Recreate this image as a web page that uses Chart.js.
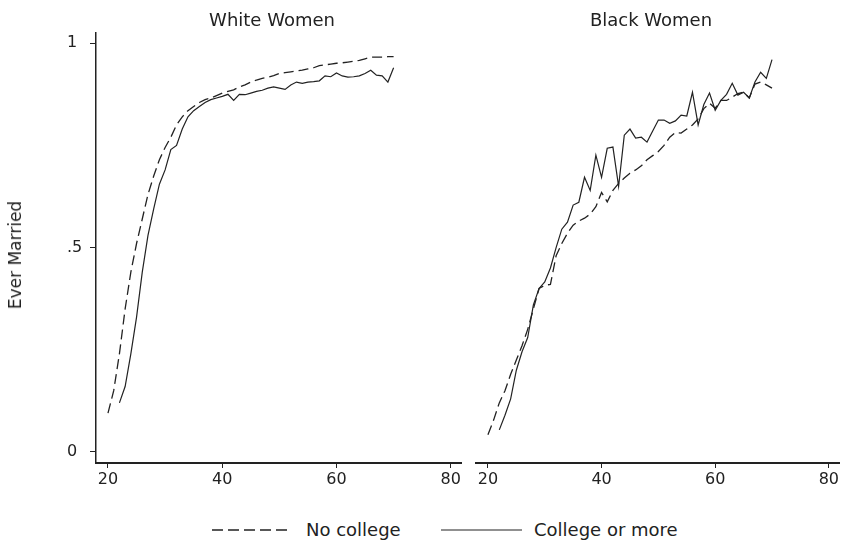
<!DOCTYPE html>
<html>
<head>
<meta charset="utf-8">
<script src="https://cdn.jsdelivr.net/npm/chart.js@4"></script>
<style>
  body { margin: 0; background: #fff; width: 841px; height: 540px; position: relative; overflow: hidden; font-family: "DejaVu Sans", sans-serif; color: #222; }
  canvas { position: absolute; top: 0; }
  #white { left: 0; }
  #black { left: 466px; }
  .title { position: absolute; top: 9px; font-size: 18px; transform: translateX(-50%); white-space: nowrap; }
  #ylab { position: absolute; left: 15px; top: 255px; font-size: 17px; transform: translate(-50%, -50%) rotate(-90deg); white-space: nowrap; }
  #legend { position: absolute; top: 519px; left: 0; width: 841px; height: 22px; font-size: 18px; }
  #legend span { position: absolute; top: 0; white-space: nowrap; }
  #legend svg { position: absolute; top: 0; }
</style>
</head>
<body>
<canvas id="white" width="470" height="500"></canvas>
<canvas id="black" width="375" height="500"></canvas>
<div class="title" style="left:272px">White Women</div>
<div class="title" style="left:651px">Black Women</div>
<div id="ylab">Ever Married</div>
<div id="legend">
  <svg width="841" height="22"><line x1="212" y1="11" x2="288" y2="11" stroke="#222" stroke-width="1.3" stroke-dasharray="11,5"/><line x1="441" y1="11" x2="522" y2="11" stroke="#222" stroke-width="1.2"/></svg>
  <span style="left:306px">No college</span>
  <span style="left:534px">College or more</span>
</div>
<script>
const ages = [];
for (let a = 20; a <= 70; a++) ages.push(a);

const xTicks = [20, 40, 60, 80];
const yTicks = [0, 0.5, 1];
const yTickLabels = ['0', '.5', '1'];

// White women, ages 20..70
const whiteNoCollege = [
  0.095, 0.15, 0.24, 0.35, 0.44, 0.51, 0.57, 0.63, 0.675, 0.715,
  0.745, 0.77, 0.80, 0.82, 0.835, 0.845, 0.855, 0.862, 0.866, 0.872,
  0.878, 0.882, 0.886, 0.893, 0.898, 0.905, 0.91, 0.914, 0.917, 0.921,
  0.926, 0.928, 0.93, 0.932, 0.934, 0.937, 0.94, 0.945, 0.947, 0.949,
  0.951, 0.952, 0.954, 0.956, 0.958, 0.962, 0.966, 0.966, 0.966, 0.967,
  0.967
];
const whiteCollege = [
  null, null, 0.12, 0.16, 0.24, 0.33, 0.44, 0.53, 0.595, 0.655,
  0.69, 0.74, 0.75, 0.79, 0.82, 0.835, 0.845, 0.855, 0.862, 0.866,
  0.87, 0.875, 0.86, 0.875, 0.874, 0.878, 0.882, 0.885, 0.89, 0.893,
  0.89, 0.887, 0.898, 0.905, 0.902, 0.905, 0.906, 0.908, 0.92, 0.918,
  0.927, 0.92, 0.917, 0.918, 0.92, 0.926, 0.934, 0.922, 0.92, 0.905,
  0.94
];

// Black women, ages 20..70
const blackNoCollege = [
  0.042, 0.078, 0.12, 0.15, 0.19, 0.225, 0.26, 0.30, 0.35, 0.40,
  0.408, 0.41, 0.48, 0.51, 0.535, 0.555, 0.565, 0.572, 0.582, 0.60,
  0.635, 0.612, 0.64, 0.657, 0.67, 0.682, 0.69, 0.70, 0.715, 0.725,
  0.735, 0.75, 0.77, 0.782, 0.78, 0.79, 0.80, 0.815, 0.84, 0.853,
  0.841, 0.86, 0.86, 0.868, 0.877, 0.88, 0.866, 0.90, 0.905, 0.898,
  0.89
];
const blackCollege = [
  null, null, 0.054, 0.09, 0.13, 0.20, 0.245, 0.28, 0.36, 0.40,
  0.416, 0.45, 0.50, 0.545, 0.562, 0.604, 0.611, 0.672, 0.64, 0.726,
  0.672, 0.743, 0.746, 0.65, 0.775, 0.79, 0.768, 0.77, 0.758, 0.785,
  0.812, 0.812, 0.804, 0.81, 0.824, 0.822, 0.88, 0.80, 0.85, 0.878,
  0.836, 0.86, 0.875, 0.902, 0.873, 0.88, 0.866, 0.905, 0.929, 0.914,
  0.96
];

const toPoints = vals => ages.map((a, i) => ({ x: a, y: vals[i] })).filter(p => p.y !== null);

function makeChart(id, noCollege, college, showY, pad) {
  return new Chart(document.getElementById(id), {
    type: 'line',
    data: {
      datasets: [
        {
          label: 'No college',
          data: toPoints(noCollege),
          borderColor: '#222',
          borderWidth: 1.3,
          borderDash: [10, 5],
          pointRadius: 0,
          tension: 0
        },
        {
          label: 'College or more',
          data: toPoints(college),
          borderColor: '#222',
          borderWidth: 1.2,
          pointRadius: 0,
          tension: 0
        }
      ]
    },
    options: {
      responsive: false,
      animation: false,
      layout: { padding: pad },
      plugins: { legend: { display: false }, tooltip: { enabled: false } },
      scales: {
        x: {
          type: 'linear',
          min: 17.9,
          max: 81.8,
          afterBuildTicks: s => { s.ticks = xTicks.map(v => ({ value: v })); },
          afterFit: s => { s.height = 30; },
          grid: { drawOnChartArea: false, tickLength: 5, color: '#222' },
          border: { display: true, color: '#222', width: 2 },
          ticks: { color: '#222', padding: 2, maxRotation: 0, font: { family: 'DejaVu Sans', size: 16 } }
        },
        y: {
          display: showY,
          min: -0.027,
          max: 1.025,
          afterBuildTicks: s => { s.ticks = yTicks.map(v => ({ value: v })); },
          afterFit: s => { s.width = showY ? 29 : 0; },
          grid: { drawOnChartArea: false, tickLength: 6, color: '#222' },
          border: { display: true, color: '#222', width: 1.5 },
          ticks: {
            color: '#222',
            crossAlign: 'far',
            font: { family: 'DejaVu Sans', size: 16 },
            callback: v => yTickLabels[yTicks.indexOf(v)]
          }
        }
      }
    }
  });
}

makeChart('white', whiteNoCollege, whiteCollege, true, { left: 67, right: 9, top: 33, bottom: 7 });
makeChart('black', blackNoCollege, blackCollege, false, { left: 10, right: 0, top: 33, bottom: 7 });
</script>
</body>
</html>
